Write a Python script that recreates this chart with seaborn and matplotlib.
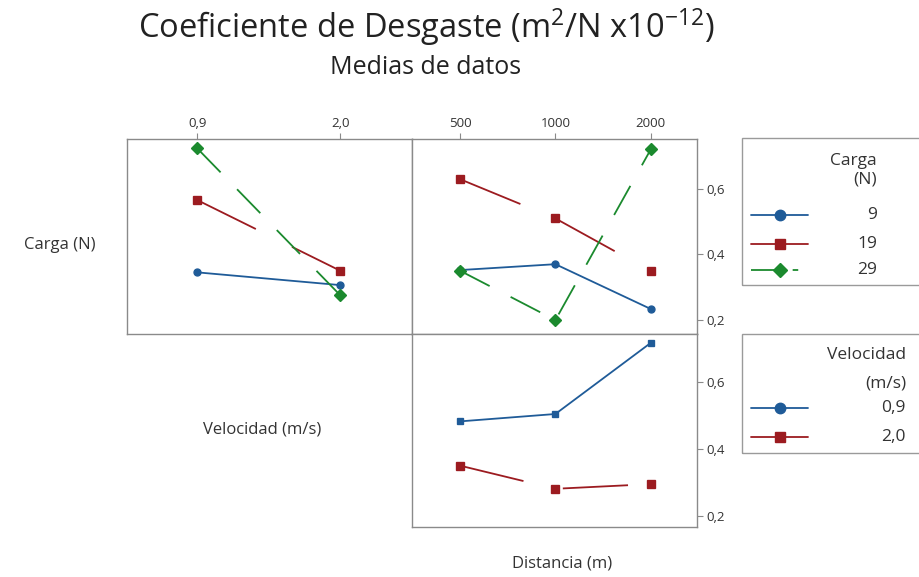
import matplotlib
matplotlib.use("Agg")
import numpy as np
import pandas as pd
import seaborn as sns
import matplotlib.pyplot as plt
from matplotlib.patches import Rectangle
from matplotlib.lines import Line2D

sns.set_theme(style="white")
plt.rcParams['font.family'] = ['Open Sans', 'DejaVu Sans']
plt.rcParams['mathtext.default'] = 'regular'
plt.rcParams['lines.scale_dashes'] = False

# ---------------- data ----------------
carga_levels = ["9", "19", "29"]
velocidad_levels = ["0,9", "2,0"]
distancia_levels = ["500", "1000", "2000"]

# mean wear coefficient vs Velocidad, one series per Carga
vel_carga_9 = [0.345, 0.306]
vel_carga_19 = [0.566, 0.350]
vel_carga_29 = [0.724, 0.275]

# mean wear coefficient vs Distancia, one series per Carga
dist_carga_9 = [0.352, 0.370, 0.233]
dist_carga_19 = [0.630, 0.510, 0.349]
dist_carga_29 = [0.350, 0.199, 0.721]

# mean wear coefficient vs Distancia, one series per Velocidad
dist_vel_09 = [0.482, 0.504, 0.716]
dist_vel_20 = [0.350, 0.281, 0.295]

ytick_vals = [0.2, 0.4, 0.6]
ytick_labels = ["0,2", "0,4", "0,6"]

# ---------------- tables ----------------
df_vc = pd.DataFrame({
    "Velocidad": velocidad_levels * 3,
    "Carga": sum([[c] * 2 for c in carga_levels], []),
    "coef": vel_carga_9 + vel_carga_19 + vel_carga_29,
})
df_dc = pd.DataFrame({
    "Distancia": distancia_levels * 3,
    "Carga": sum([[c] * 3 for c in carga_levels], []),
    "coef": dist_carga_9 + dist_carga_19 + dist_carga_29,
})
df_dv = pd.DataFrame({
    "Distancia": distancia_levels * 2,
    "Velocidad": sum([[v] * 3 for v in velocidad_levels], []),
    "coef": dist_vel_09 + dist_vel_20,
})

BLUE, RED, GREEN = "#1f5b98", "#9c1b20", "#1b8a2e"
pal3 = [BLUE, RED, GREEN]
pal2 = [BLUE, RED]
ls_red = (0, (47, 29))
ls_green = (0, (24, 17))
markers3 = ["o", "s", "D"]
ls3 = ["-", ls_red, ls_green]

W, H = 919, 577
fig = plt.figure(figsize=(W / 100, H / 100), dpi=100)

def fx(px):
    return px / W

def fy(py):
    return 1 - py / H

L, M, R = 127.3, 411.7, 696.5
T, MID, B = 139.3, 333.5, 526.7
ax1 = fig.add_axes([fx(L), fy(MID), fx(M - L), (MID - T) / H])
ax2 = fig.add_axes([fx(M), fy(MID), fx(R - M), (MID - T) / H])
ax3 = fig.add_axes([fx(M), fy(B), fx(R - M), (B - MID) / H])

common = dict(errorbar=None, dodge=False, legend=False, markersize=6, linewidth=1.3)
sns.pointplot(data=df_vc, x="Velocidad", y="coef", hue="Carga", order=velocidad_levels,
              hue_order=carga_levels, palette=pal3, markers=markers3, linestyles=ls3,
              ax=ax1, **common)
sns.pointplot(data=df_dc, x="Distancia", y="coef", hue="Carga", order=distancia_levels,
              hue_order=carga_levels, palette=pal3, markers=markers3, linestyles=ls3,
              ax=ax2, **common)
sns.pointplot(data=df_dv, x="Distancia", y="coef", hue="Velocidad", order=distancia_levels,
              hue_order=velocidad_levels, palette=pal2, markers=["s", "s"],
              linestyles=["-", ls_red], ax=ax3, **common)

# smaller markers for the first (blue) series, as in the reference
for ax in (ax1, ax2, ax3):
    if ax.lines:
        ax.lines[0].set_markersize(5)

ax1.set_xlim(-0.49, 1.50)
ax2.set_xlim(-0.507, 2.48)
ax3.set_xlim(-0.507, 2.48)
ax1.set_ylim(0.158, 0.752)
ax2.set_ylim(0.158, 0.752)
ax3.set_ylim(0.168, 0.744)

SP = "#8a8a8a"
TXT = "#333333"
for ax in (ax1, ax2, ax3):
    ax.set_xlabel("")
    ax.set_ylabel("")
    for s in ax.spines.values():
        s.set_color(SP)
        s.set_linewidth(1.0)
    ax.tick_params(colors=SP, labelcolor=TXT, labelsize=9.5, length=4, width=0.8,
                   direction="out", pad=3)

# top-left: ticks on top, no y ticks
ax1.xaxis.tick_top()
ax1.set_xticks(range(len(velocidad_levels)))
ax1.set_xticklabels(velocidad_levels)
ax1.set_yticks([])

# top-right: ticks on top and right
ax2.xaxis.tick_top()
ax2.set_xticks(range(len(distancia_levels)))
ax2.set_xticklabels(distancia_levels)
ax2.yaxis.tick_right()
ax2.set_yticks(ytick_vals)
ax2.set_yticklabels(ytick_labels)

# bottom-right: right ticks only
ax3.set_xticks([])
ax3.yaxis.tick_right()
ax3.set_yticks(ytick_vals)
ax3.set_yticklabels(ytick_labels)

# titles and labels
fig.text(fx(426), fy(38), "Coeficiente de Desgaste (m$^{2}$/N x10$^{-12}$)",
         ha="center", va="baseline", fontsize=23.5, color="#222222")
fig.text(fx(426), fy(74), "Medias de datos", ha="center", va="baseline",
         fontsize=18, color="#222222")
fig.text(fx(60), fy(245), "Carga (N)", ha="center", va="center", fontsize=12, color=TXT)
fig.text(fx(262), fy(430), "Velocidad (m/s)", ha="center", va="center", fontsize=12, color=TXT)
fig.text(fx(562), fy(563), "Distancia (m)", ha="center", va="center", fontsize=12, color=TXT)

# legends (manual, right-aligned text like Minitab)
LEGFS = 12.5

def legend_box(y0, y1):
    fig.add_artist(Rectangle((fx(741.7), fy(y1)), fx(930 - 741.7), (y1 - y0) / H,
                             transform=fig.transFigure, fill=False, edgecolor="#9a9a9a",
                             linewidth=1.0, clip_on=False))

def legend_entry(y, color, marker, ls, label, xr):
    fig.add_artist(Line2D([fx(751), fx(808)], [fy(y), fy(y)], transform=fig.transFigure,
                          color=color, linestyle=ls, linewidth=1.3))
    fig.add_artist(Line2D([fx(780)], [fy(y)], transform=fig.transFigure, color=color,
                          marker=marker, markersize=7.5, linestyle="none"))
    fig.text(fx(xr), fy(y), label, ha="right", va="center", fontsize=LEGFS, color=TXT)

legend_box(138.3, 285)
fig.text(fx(877), fy(161), "Carga", ha="right", va="center", fontsize=LEGFS, color=TXT)
fig.text(fx(877), fy(180), "(N)", ha="right", va="center", fontsize=LEGFS, color=TXT)
for y, c, m, ls, lab in zip([215, 244, 270], pal3, markers3, ["-", "-", (0, (24, 6, 4, 30))], carga_levels):
    legend_entry(y, c, m, ls, lab, 877)

legend_box(334, 452.7)
fig.text(fx(906), fy(355), "Velocidad", ha="right", va="center", fontsize=LEGFS, color=TXT)
fig.text(fx(906), fy(383), "(m/s)", ha="right", va="center", fontsize=LEGFS, color=TXT)
for y, c, m, lab in zip([408, 437], pal2, ["o", "s"], velocidad_levels):
    legend_entry(y, c, m, "-", lab, 906)

fig.savefig("out.png", dpi=100)
